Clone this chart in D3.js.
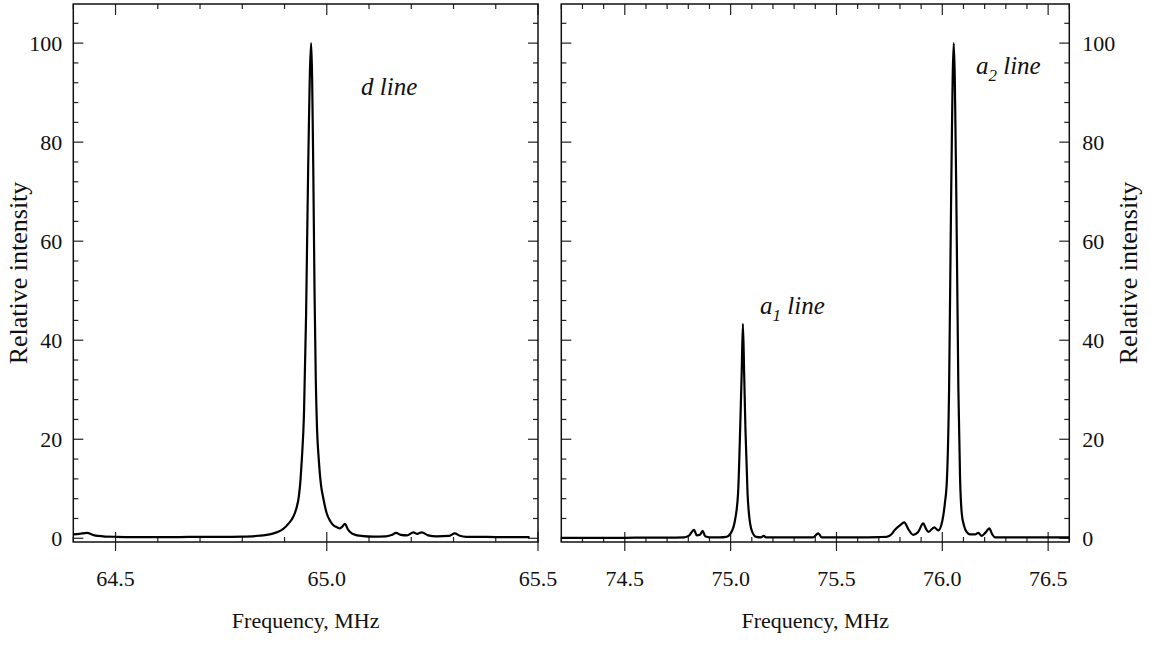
<!DOCTYPE html>
<html>
<head>
<meta charset="utf-8">
<script src="https://cdn.jsdelivr.net/npm/d3@7"></script>
<style>
  body { margin: 0; background: #fff; }
  text { font-family: "Liberation Serif", "Times New Roman", serif; fill: #111; }
</style>
</head>
<body>
<svg id="chart" width="1150" height="645"></svg>
<script>
// ---- data ----
// left panel: d line
var dFreq = [64.400, 64.415, 64.432, 64.450, 64.470, 64.500, 64.550, 64.600, 64.650, 64.700, 64.750, 64.800,
	64.830, 64.850, 64.870, 64.885, 64.897, 64.910, 64.921, 64.928, 64.934, 64.938, 64.941, 64.946,
	64.951, 64.956, 64.963, 64.968, 64.971, 64.974, 64.977, 64.981, 64.986, 64.992, 65.000, 65.008,
	65.015, 65.025, 65.031, 65.036, 65.043, 65.050, 65.059, 65.072, 65.086, 65.110, 65.140, 65.155,
	65.164, 65.175, 65.190, 65.205, 65.214, 65.225, 65.240, 65.260, 65.290, 65.303, 65.315, 65.330,
	65.360, 65.400, 65.440, 65.480];
var dInt = [0.8, 0.9, 1.1, 0.6, 0.4, 0.3, 0.25, 0.25, 0.25, 0.3, 0.3, 0.35,
	0.45, 0.6, 0.9, 1.3, 1.9, 3.0, 4.4, 6.0, 8.5, 12, 16, 25,
	45, 75, 100, 75, 50, 32, 22, 16, 11, 8, 5, 3.5,
	2.7, 2.2, 2.0, 2.3, 2.9, 1.8, 1.0, 0.6, 0.45, 0.35, 0.4, 0.7,
	1.1, 0.7, 0.6, 1.2, 0.9, 1.2, 0.6, 0.4, 0.5, 1.0, 0.5, 0.3,
	0.3, 0.25, 0.25, 0.25];

// right panel: a1 and a2 lines
var aFreq = [74.200, 74.300, 74.400, 74.500, 74.600, 74.700, 74.780, 74.805, 74.815, 74.827, 74.840,
	74.855, 74.868, 74.880, 74.900, 74.950, 74.980, 75.000, 75.020, 75.035, 75.045, 75.052, 75.058,
	75.064, 75.070, 75.080, 75.092, 75.105, 75.120, 75.145, 75.156, 75.168, 75.200, 75.300, 75.390,
	75.414, 75.430, 75.500, 75.600, 75.700, 75.737, 75.760, 75.776, 75.800, 75.820, 75.840, 75.863,
	75.885, 75.910, 75.922, 75.934, 75.962, 75.981, 76.000, 76.012, 76.022, 76.032, 76.042, 76.054,
	76.066, 76.076, 76.084, 76.092, 76.103, 76.115, 76.131, 76.155, 76.170, 76.186, 76.205, 76.222,
	76.236, 76.249, 76.300, 76.400, 76.500, 76.600];
var aInt = [0.1, 0.1, 0.1, 0.1, 0.15, 0.15, 0.2, 0.6, 1.2, 1.7, 0.6,
	0.7, 1.5, 0.4, 0.2, 0.2, 0.3, 1.0, 3.5, 9, 22, 33, 43.3,
	33, 22, 9, 3, 1.0, 0.3, 0.2, 0.5, 0.2, 0.2, 0.2, 0.2,
	1.0, 0.2, 0.2, 0.2, 0.25, 0.3, 0.8, 1.7, 2.6, 3.2, 1.8, 0.7,
	1.2, 3.0, 2.0, 1.3, 2.2, 1.6, 3.5, 7, 12, 30, 70, 100,
	70, 30, 12, 5, 2.5, 1.3, 0.8, 0.8, 1.1, 0.5, 1.2, 2.0,
	0.8, 0.2, 0.2, 0.2, 0.2, 0.2];

var yMajor = [0, 20, 40, 60, 80, 100];
var xMajorLeft = [64.5, 65.0, 65.5];
var xMajorRight = [74.5, 75.0, 75.5, 76.0, 76.5];
var xLabel = "Frequency, MHz";
var yLabel = "Relative intensity";

var svg = d3.select("#chart");
var plotTop = 4, plotBottom = 542;

var y = d3.scaleLinear().domain([-0.75, 107.9]).range([plotBottom, plotTop]);

var line = function(x) {
	return d3.line()
		.x(d => x(d[0]))
		.y(d => y(d[1]))
		.curve(d3.curveMonotoneX);
};

function minorTicks(lo, hi, step, majors) {
	var out = [];
	var n = Math.round((hi - lo) / step);
	for (var i = 0; i <= n; i++) {
		var v = +(lo + i * step).toFixed(4);
		if (majors.indexOf(v) < 0) out.push(v);
	}
	return out;
}

function panel(x, freq, inten, xMajor, side) {
	var g = svg.append("g");
	var x0 = x.range()[0], x1 = x.range()[1];
	var dom = x.domain();

	var xMinor = minorTicks(Math.ceil(dom[0] * 10 - 1e-6) / 10, Math.floor(dom[1] * 10 + 1e-6) / 10, 0.1, xMajor);
	var yMinor = minorTicks(0, 104, 4, yMajor);

	// bottom ticks
	g.selectAll(null).data(xMajor).enter().append("line")
		.attr("x1", d => x(d)).attr("x2", d => x(d))
		.attr("y1", plotBottom - 10).attr("y2", plotBottom + 9);
	g.selectAll(null).data(xMinor).enter().append("line")
		.attr("x1", d => x(d)).attr("x2", d => x(d))
		.attr("y1", plotBottom - 5).attr("y2", plotBottom);
	// top ticks
	g.selectAll(null).data(xMajor).enter().append("line")
		.attr("x1", d => x(d)).attr("x2", d => x(d))
		.attr("y1", plotTop).attr("y2", plotTop + 11);
	g.selectAll(null).data(xMinor).enter().append("line")
		.attr("x1", d => x(d)).attr("x2", d => x(d))
		.attr("y1", plotTop).attr("y2", plotTop + 5);
	// y ticks on both sides, inward
	[[x0, 1], [x1, -1]].forEach(function(s) {
		g.selectAll(null).data(yMajor).enter().append("line")
			.attr("x1", s[0]).attr("x2", s[0] + s[1] * 10)
			.attr("y1", d => y(d)).attr("y2", d => y(d));
		g.selectAll(null).data(yMinor).enter().append("line")
			.attr("x1", s[0]).attr("x2", s[0] + s[1] * 5)
			.attr("y1", d => y(d)).attr("y2", d => y(d));
	});
	g.selectAll("line").attr("stroke", "#222").attr("stroke-width", 1.2);

	// frame
	g.append("rect")
		.attr("x", x0).attr("y", plotTop)
		.attr("width", x1 - x0).attr("height", plotBottom - plotTop)
		.attr("fill", "none").attr("stroke", "#111").attr("stroke-width", 1.5);

	// x tick labels
	g.selectAll(null).data(xMajor).enter().append("text")
		.attr("x", d => x(d)).attr("y", 586)
		.attr("text-anchor", "middle")
		.style("font-size", "22px")
		.text(d => d.toFixed(1));

	// y tick labels
	var lx = side == "left" ? x0 - 11 : x1 + 13;
	g.selectAll(null).data(yMajor).enter().append("text")
		.attr("x", lx).attr("y", d => y(d) + 7.5)
		.attr("text-anchor", side == "left" ? "end" : "start")
		.style("font-size", "22px")
		.text(d => d);

	// axis titles
	g.append("text")
		.attr("x", (x0 + x1) / 2).attr("y", 628)
		.attr("text-anchor", "middle")
		.style("font-size", "22px")
		.text(xLabel);
	var ty = (plotTop + plotBottom) / 2;
	var tx = side == "left" ? 27 : 1137;
	g.append("text")
		.attr("transform", `translate(${tx},${ty}) rotate(-90)`)
		.attr("text-anchor", "middle")
		.style("font-size", "26px")
		.text(yLabel);

	// spectrum
	g.append("path")
		.datum(d3.zip(freq, inten))
		.attr("fill", "none")
		.attr("stroke", "#000")
		.attr("stroke-width", 2.2)
		.attr("stroke-linejoin", "round")
		.attr("d", line(x));
	return g;
}

var xLeft = d3.scaleLinear().domain([64.4, 65.5]).range([73.3, 538]);
var xRight = d3.scaleLinear().domain([74.2, 76.6]).range([561.3, 1069.3]);

var gl = panel(xLeft, dFreq, dInt, xMajorLeft, "left");
var gr = panel(xRight, aFreq, aInt, xMajorRight, "right");

// line annotations
function note(g, x, fx, vy, sub) {
	var t = g.append("text")
		.attr("x", x(fx)).attr("y", y(vy))
		.style("font-size", "25px")
		.style("font-style", "italic");
	if (sub) {
		t.append("tspan").text("a");
		t.append("tspan").attr("dy", 7).style("font-size", "17px").text(sub);
		t.append("tspan").attr("dy", -7).text(" line");
	} else {
		t.text("d line");
	}
}
note(gl, xLeft, 65.081, 89.5, null);
note(gr, xRight, 75.139, 45.3, "1");
note(gr, xRight, 76.159, 93.8, "2");
</script>
</body>
</html>
